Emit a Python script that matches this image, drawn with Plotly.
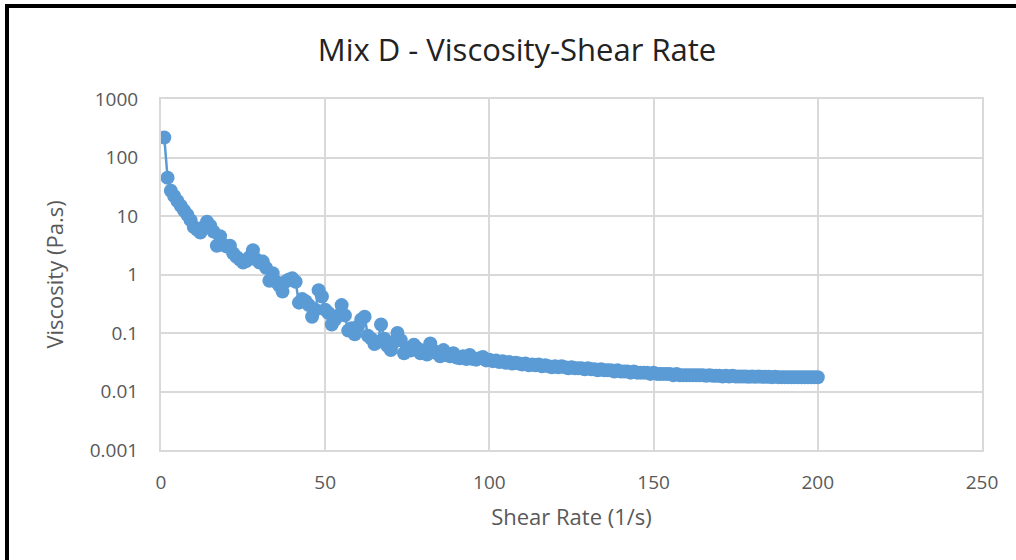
import plotly.graph_objects as go

# ---- data ----
shear_rate = list(range(1, 201))

visc_1_50 = [
    220, 45, 27, 22, 18, 15, 12.5, 10.5, 8.5, 6.5,
    5.8, 5.2, 6.5, 8.0, 6.8, 5.4, 3.1, 4.5, 3.2, 3.0,
    3.1, 2.3, 2.0, 1.8, 1.6, 1.7, 2.0, 2.6, 1.8, 1.6,
    1.66, 1.3, 0.78, 1.05, 0.75, 0.65, 0.51, 0.76, 0.82, 0.86,
    0.75, 0.33, 0.38, 0.35, 0.30, 0.19, 0.25, 0.54, 0.42, 0.25,
]
visc_51_100 = [
    0.22, 0.14, 0.17, 0.20, 0.30, 0.20, 0.11, 0.12, 0.095, 0.13,
    0.17, 0.19, 0.09, 0.08, 0.065, 0.07, 0.14, 0.08, 0.06, 0.051,
    0.07, 0.10, 0.075, 0.045, 0.055, 0.05, 0.063, 0.055, 0.045, 0.05,
    0.043, 0.066, 0.05, 0.045, 0.04, 0.051, 0.042, 0.04, 0.045, 0.038,
    0.037, 0.04, 0.036, 0.042, 0.036, 0.035, 0.037, 0.039, 0.034, 0.035,
]
visc_101_150 = [
    0.033, 0.034, 0.032, 0.033, 0.031, 0.032, 0.030, 0.031, 0.030, 0.029,
    0.030, 0.028, 0.029, 0.028, 0.029, 0.027, 0.028, 0.027, 0.026, 0.027,
    0.026, 0.027, 0.026, 0.025, 0.026, 0.025, 0.025, 0.025, 0.024, 0.025,
    0.024, 0.024, 0.023, 0.024, 0.023, 0.023, 0.023, 0.022, 0.023, 0.022,
    0.022, 0.022, 0.021, 0.022, 0.021, 0.021, 0.021, 0.021, 0.020, 0.021,
]
visc_151_200 = [
    0.020, 0.020, 0.020, 0.020, 0.020, 0.019, 0.020, 0.019, 0.019, 0.019,
    0.019, 0.019, 0.019, 0.019, 0.019, 0.0185, 0.019, 0.0185, 0.0185, 0.0185,
    0.018, 0.0185, 0.018, 0.0185, 0.018, 0.018, 0.018, 0.018, 0.0178, 0.018,
    0.0178, 0.018, 0.0178, 0.0178, 0.0178, 0.0176, 0.0178, 0.0176, 0.0176, 0.0176,
    0.0176, 0.0175, 0.0176, 0.0175, 0.0175, 0.0175, 0.0176, 0.0175, 0.0175, 0.0175,
]
viscosity = visc_1_50 + visc_51_100 + visc_101_150 + visc_151_200

x_ticks = [0, 50, 100, 150, 200, 250]
y_ticks = [0.001, 0.01, 0.1, 1, 10, 100, 1000]
y_tick_labels = ["0.001", "0.01", "0.1", "1", "10", "100", "1000"]

title_text = "Mix D - Viscosity-Shear Rate"
x_title = "Shear Rate (1/s)"
y_title = "Viscosity (Pa.s)"

# ---- figure ----
W, H = 1016, 560
ml, mr, mt, mb = 161, 34, 99, 110
pw, ph = W - ml - mr, H - mt - mb

def px_to_paper_x(px):
    return (px - ml) / pw

def px_to_paper_y(py):
    return (H - mb - py) / ph

FONT = "Open Sans"
BLUE = "#5b9bd5"
GRID = "#d9d9d9"
TXT = "#595959"

fig = go.Figure()
fig.add_trace(go.Scatter(
    x=shear_rate, y=viscosity, mode="lines+markers",
    line=dict(color=BLUE, width=2.5),
    marker=dict(color=BLUE, size=14),
    showlegend=False,
))

bx, by = px_to_paper_x(7), px_to_paper_y(6)
fig.add_shape(type="path", xref="paper", yref="paper",
              path=f"M {bx} {px_to_paper_y(562)} L {bx} {by} L {px_to_paper_x(1020)} {by}",
              line=dict(color="black", width=4))

fig.update_layout(
    width=W, height=H,
    margin=dict(l=ml, r=mr, t=mt, b=mb),
    paper_bgcolor="white", plot_bgcolor="white",
    font=dict(family=FONT, color=TXT, size=19),
    title=dict(text=title_text, x=517 / W, xref="container", xanchor="center",
               y=1 - 50 / H, yref="container", yanchor="middle",
               font=dict(family=FONT, size=31, color="#222222")),
    xaxis=dict(range=[0, 250], tickvals=x_ticks, ticks="", showgrid=True,
               gridcolor=GRID, gridwidth=2, showline=True, linecolor=GRID,
               linewidth=2, mirror=True, zeroline=False,
               tickfont=dict(size=19, color=TXT), ticklabelstandoff=14,
               title=dict(text=x_title, font=dict(size=22, color=TXT), standoff=16)),
    yaxis=dict(type="log", range=[-3, 3], tickvals=y_ticks, ticktext=y_tick_labels,
               ticks="", showgrid=True, gridcolor=GRID, gridwidth=2, showline=True,
               linecolor=GRID, linewidth=2, mirror=True, zeroline=False,
               tickfont=dict(size=19, color=TXT), ticklabelstandoff=17,
               title=dict(text=y_title, font=dict(size=22, color=TXT), standoff=20)),
)

fig.write_html("out.html")
